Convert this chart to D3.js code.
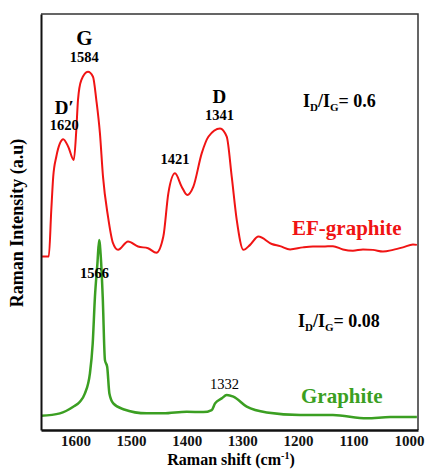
<!DOCTYPE html>
<html>
<head>
<meta charset="utf-8">
<script src="https://cdn.jsdelivr.net/npm/d3@7"></script>
<style>
  body { margin: 0; background: #fff; }
  svg text { font-family: "Liberation Serif", "Times New Roman", "DejaVu Serif", serif !important; font-weight: bold; }
</style>
</head>
<body>
<div id="chart"></div>
<script>
//////////////////////////////////////////////
// Data //////////////////////////////////////
//////////////////////////////////////////////
// intensity in arbitrary units (0-100)

var efShift = [1660, 1648, 1643.5, 1640, 1634.5, 1628, 1622, 1613, 1603, 1598.5, 1595.5, 1589.5,
  1577.5, 1568.5, 1562.5, 1556, 1550.5, 1541.5, 1532.5, 1523.5, 1505.5, 1487.5, 1469.5, 1454.5,
  1442, 1433, 1421, 1409, 1399, 1388, 1373, 1361, 1340, 1328, 1319, 1310, 1298, 1286, 1271,
  1247, 1232, 1214, 1191, 1173, 1155, 1137, 1119, 1101, 1083, 1065, 1047, 1029, 1011, 993, 986];
var efIntensity = [41.7, 41.7, 52.9, 60.9, 65.7, 68.9, 69.9, 68.1, 64.9, 72.1, 79.3, 84.1,
  86.1, 84.9, 79.3, 71.3, 60.9, 51.3, 44.9, 43.3, 45.3, 44.1, 43.7, 42.6,
  46.5, 56.9, 61.7, 58.5, 56.5, 58.5, 66.5, 70.5, 72.5, 70.5, 60.9, 50.5, 43.3, 44.5, 46.5,
  44.7, 44.2, 43.4, 43.9, 44.1, 44.1, 44.2, 43.4, 43.1, 43.4, 43.3, 42.9, 43.3, 43.9, 44.6, 44.5];

var grShift = [1662, 1628, 1604, 1592, 1583, 1574, 1569, 1565, 1560.5, 1557.5, 1554.5, 1551,
  1547, 1543, 1539, 1532, 1514, 1472, 1442, 1400, 1370, 1355, 1349, 1337, 1328, 1316, 1292,
  1256, 1196, 1137, 1076, 1034, 986];
var grIntensity = [3.4, 4.0, 5.6, 6.8, 8.8, 13.6, 20.8, 32.0, 40.1, 45.7, 41.7, 32.0,
  16.8, 15.2, 8.8, 6.4, 5.0, 4.0, 4.0, 4.4, 4.3, 4.8, 6.4, 7.6, 8.4, 8.0, 5.6,
  4.2, 3.6, 3.6, 2.8, 3.1, 3.1];

var xTicks = [1600, 1500, 1400, 1300, 1200, 1100, 1000];

// peak labels: [shift, intensity, text]
var efPeaks = [[1620, 72, "1620"], [1584, 88.5, "1584"], [1421, 64, "1421"], [1341, 74.5, "1341"]];
var efBands = [[1620, 76, "D\u2032"], [1584, 92.5, "G"], [1341, 78.5, "D"]];
var grPeaks = [[1566, 36.5, "1566", "bold"], [1332, 9.8, "1332", "normal"]];

var red = "#f01414", green = "#3b9f22";

//////////////////////////////////////////////
// Chart Config /////////////////////////////
//////////////////////////////////////////////
var margin = {top: 14, right: 7, bottom: 41, left: 41},
    width = 425 - margin.left - margin.right,
    height = 471 - margin.top - margin.bottom;

var xScale = d3.scaleLinear().domain([1662, 984]).range([0, width]);
var yScale = d3.scaleLinear().domain([0, 100]).range([height, 0]);

var svg = d3.select("#chart").append("svg")
    .attr("width", 425)
    .attr("height", 471);

var artboard = svg.append("g")
    .attr("transform", "translate(" + margin.left + "," + margin.top + ")");

// frame (top and right)
artboard.append("path")
    .attr("d", "M0,0H" + width + "V" + height)
    .style("fill", "none")
    .style("stroke", "#333")
    .style("stroke-width", "1.5px");

var line = d3.line()
    .x(function(d) { return xScale(d[0]); })
    .y(function(d) { return yScale(d[1]); })
    .curve(d3.curveMonotoneX);

artboard.append("path")
    .datum(d3.zip(efShift, efIntensity))
    .attr("d", line)
    .style("fill", "none")
    .style("stroke", red)
    .style("stroke-width", "2px");

artboard.append("path")
    .datum(d3.zip(grShift, grIntensity))
    .attr("d", line)
    .style("fill", "none")
    .style("stroke", green)
    .style("stroke-width", "2.5px");

// axes
var xAxis = d3.axisBottom(xScale).tickValues(xTicks).tickFormat(d3.format("d"))
    .tickSize(0).tickPadding(5).tickSizeOuter(0);
var xAxisEl = artboard.append("g")
    .attr("transform", "translate(0," + height + ")")
    .call(xAxis);
xAxisEl.select(".domain").style("stroke", "#111").style("stroke-width", "2.5px");
xAxisEl.selectAll("text")
    .style("font-size", "15px")
    .style("fill", "#111");

var yAxisEl = artboard.append("g").call(d3.axisLeft(yScale).tickValues([]).tickSizeOuter(0));
yAxisEl.select(".domain").style("stroke", "#111").style("stroke-width", "2px");

// axis titles
var xTitle = svg.append("text")
    .attr("x", 231).attr("y", 465)
    .attr("text-anchor", "middle")
    .style("font-size", "16px")
    .text("Raman shift (cm");
xTitle.append("tspan").attr("dy", -6).style("font-size", "10px").text("-1");
xTitle.append("tspan").attr("dy", 6).text(")");

svg.append("text")
    .attr("transform", "translate(23,223) rotate(-90)")
    .attr("text-anchor", "middle")
    .style("font-size", "18px")
    .text("Raman Intensity (a.u)");

// peak labels
artboard.selectAll(".ef-peak").data(efPeaks).enter().append("text")
    .attr("x", function(d) { return xScale(d[0]); })
    .attr("y", function(d) { return yScale(d[1]); })
    .attr("text-anchor", "middle")
    .style("font-size", "14.5px")
    .text(function(d) { return d[2]; });

artboard.selectAll(".ef-band").data(efBands).enter().append("text")
    .attr("x", function(d) { return xScale(d[0]); })
    .attr("y", function(d) { return yScale(d[1]); })
    .attr("text-anchor", "middle")
    .style("font-size", function(d) { return d[2] == "G" ? "21px" : "19px"; })
    .text(function(d) { return d[2]; });

artboard.selectAll(".gr-peak").data(grPeaks).enter().append("text")
    .attr("x", function(d) { return xScale(d[0]); })
    .attr("y", function(d) { return yScale(d[1]); })
    .attr("text-anchor", "middle")
    .style("font-size", "14.5px")
    .style("font-weight", function(d) { return d[3]; })
    .text(function(d) { return d[2]; });

// series names
svg.append("text").attr("x", 292).attr("y", 235)
    .style("font-size", "21px").style("fill", red).text("EF-graphite");
svg.append("text").attr("x", 301).attr("y", 403)
    .style("font-size", "21px").style("fill", green).text("Graphite");

// ratio labels
function ratio(x, y, val) {
  var t = svg.append("text").attr("x", x).attr("y", y).style("font-size", "18px");
  t.append("tspan").text("I");
  t.append("tspan").attr("dy", 4).style("font-size", "11px").text("D");
  t.append("tspan").attr("dy", -4).text("/I");
  t.append("tspan").attr("dy", 4).style("font-size", "11px").text("G");
  t.append("tspan").attr("dy", -4).text("= " + val);
}
ratio(303, 107, "0.6");
ratio(298, 327, "0.08");
</script>
</body>
</html>
